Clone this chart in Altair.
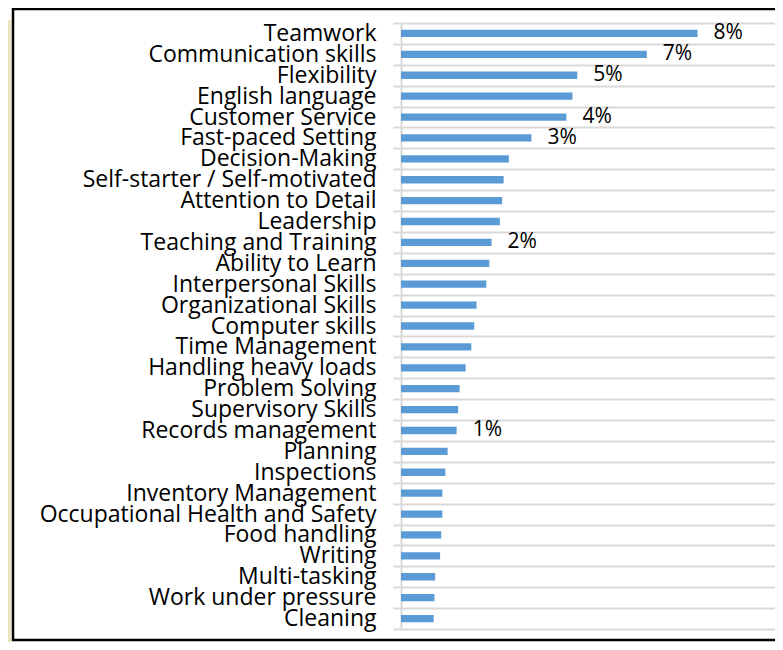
import altair as alt
import pandas as pd

skills = [
    "Teamwork", "Communication skills", "Flexibility", "English language",
    "Customer Service", "Fast-paced Setting", "Decision-Making",
    "Self-starter / Self-motivated", "Attention to Detail", "Leadership",
    "Teaching and Training", "Ability to Learn", "Interpersonal Skills",
    "Organizational Skills", "Computer skills", "Time Management",
    "Handling heavy loads", "Problem Solving", "Supervisory Skills",
    "Records management", "Planning", "Inspections", "Inventory Management",
    "Occupational Health and Safety", "Food handling", "Writing",
    "Multi-tasking", "Work under pressure", "Cleaning",
]
values = [
    7.89, 6.54, 4.69, 4.56, 4.40, 3.47, 2.87, 2.73, 2.69, 2.63,
    2.41, 2.35, 2.27, 2.01, 1.95, 1.87, 1.72, 1.56, 1.52, 1.48,
    1.24, 1.18, 1.10, 1.10, 1.07, 1.04, 0.91, 0.89, 0.87,
]
labels = [
    "8%", "7%", "5%", "", "4%", "3%", "", "", "", "",
    "2%", "", "", "", "", "", "", "", "", "1%",
    "", "", "", "", "", "", "", "", "",
]

df = pd.DataFrame({"skill": skills, "value": values, "label": labels})

W, H = 374, 606
PAD_L, PAD_T, PAD_R, PAD_B = 393, 15, 0, 13

yenc = alt.Y(
    "skill:N",
    sort=skills,
    title=None,
    scale=alt.Scale(paddingInner=0, paddingOuter=0),
    axis=alt.Axis(
        domain=True, domainColor="#d9d9d9", domainWidth=2,
        grid=True, gridColor="#d9d9d9", gridWidth=2,
        ticks=True, tickColor="#d9d9d9", tickWidth=2, tickSize=8,
        tickBand="extent",
        labelFont="Open Sans", labelFontSize=23, labelColor="#000000",
        labelPadding=17, labelLimit=400,
    ),
)
xenc = alt.X("value:Q", scale=alt.Scale(domain=[0, 9.95], nice=False), axis=None)

base = alt.Chart(df)
bars = base.mark_bar(color="#5b9bd5", height=alt.RelativeBandSize(0.35)).encode(
    x=xenc, y=yenc
)
text = base.transform_filter("datum.label != ''").mark_text(
    align="left", baseline="middle", dx=16, font="Open Sans", fontSize=21, color="#000000"
).encode(x=xenc, y=alt.Y("skill:N", sort=skills), text="label:N")

one = pd.DataFrame({"a": [0]})
frame = alt.Chart(one).mark_rect(filled=False, stroke="#000000", strokeWidth=2.5).encode(
    x=alt.value(-388), x2=alt.value(420), y=alt.value(-14), y2=alt.value(617)
)
beige = alt.Chart(one).mark_rect(color="#ece4bd").encode(
    x=alt.value(-393), x2=alt.value(-390), y=alt.value(-3), y2=alt.value(619)
)

chart = alt.layer(beige, frame, bars, text).properties(
    width=W, height=H,
    autosize=alt.AutoSizeParams(type="none"),
    padding={"left": PAD_L, "top": PAD_T, "right": PAD_R, "bottom": PAD_B},
    background="#ffffff",
).configure_view(stroke=None)

chart.save("out.html", embed_options={"renderer": "svg", "actions": False})
